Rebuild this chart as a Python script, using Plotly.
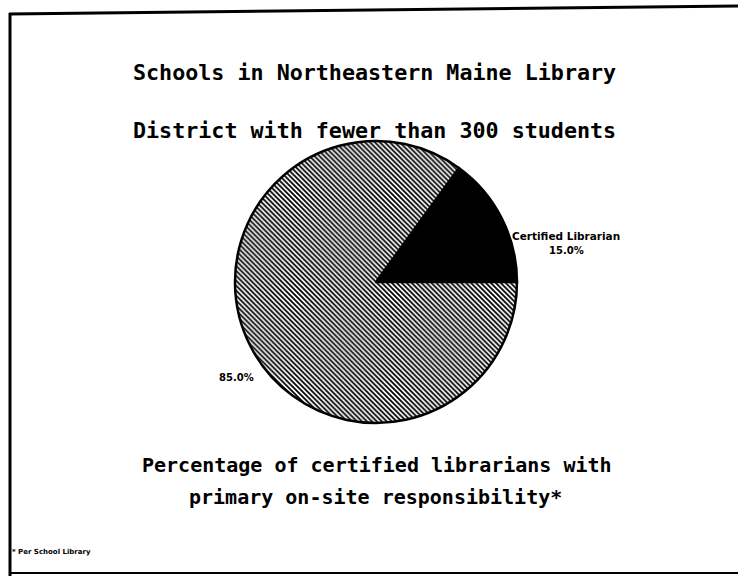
import plotly.graph_objects as go

labels = ["Certified Librarian", ""]
values = [15.0, 85.0]
title_lines = ["Schools in Northeastern Maine Library", "District with fewer than 300 students"]
caption_lines = ["Percentage of certified librarians with", "primary on-site responsibility*"]
footnote = "* Per School Library"

W, H = 738, 576


def px(x):
    return x / W


def py(y):
    return 1 - y / H


fig = go.Figure()
fig.add_trace(go.Pie(
    labels=["Certified Librarian", "Other"],
    values=values,
    sort=False,
    direction="clockwise",
    rotation=90 - values[0] * 3.6,
    textinfo="none",
    hoverinfo="label+percent",
    showlegend=False,
    marker=dict(
        colors=["black", "white"],
        line=dict(color="black", width=2.5),
        pattern=dict(shape=["", "\\"], fgcolor="black", bgcolor="white", size=3.5, solidity=0.5),
    ),
    domain=dict(x=[px(235), px(517)], y=[py(423), py(141)]),
))

mono = "DejaVu Sans Mono"
ann = []
ann.append(dict(x=px(374), y=py(72), text="<b>%s</b>" % title_lines[0], font=dict(family=mono, size=21.7, color="black")))
ann.append(dict(x=px(374), y=py(130), text="<b>%s</b>" % title_lines[1], font=dict(family=mono, size=21.7, color="black")))
ann.append(dict(x=px(377), y=py(465), text="<b>%s</b>" % caption_lines[0], font=dict(family=mono, size=20, color="black")))
ann.append(dict(x=px(375), y=py(497), text="<b>%s</b>" % caption_lines[1], font=dict(family=mono, size=20, color="black")))
ann.append(dict(x=px(566), y=py(236), text="<b>%s</b>" % labels[0], font=dict(family="DejaVu Sans", size=10.5, color="black")))
ann.append(dict(x=px(566), y=py(250), text="<b>%.1f%%</b>" % values[0], font=dict(family="DejaVu Sans", size=10, color="black")))
ann.append(dict(x=px(236), y=py(377), text="<b>%.1f%%</b>" % values[1], font=dict(family="DejaVu Sans", size=10, color="black")))
ann.append(dict(x=px(10), y=py(552), text="<b>%s</b>" % footnote, xanchor="left", font=dict(family="DejaVu Sans", size=7, color="black")))
for a in ann:
    a.setdefault("xanchor", "center")
    a.update(xref="paper", yref="paper", yanchor="middle", showarrow=False)

shapes = [
    dict(type="line", xref="paper", yref="paper", x0=px(9), x1=1, y0=py(14), y1=py(6), line=dict(color="black", width=3)),
    dict(type="line", xref="paper", yref="paper", x0=px(10), x1=px(10), y0=py(13), y1=0, line=dict(color="black", width=3)),
    dict(type="line", xref="paper", yref="paper", x0=px(10), x1=1, y0=py(573), y1=py(573), line=dict(color="black", width=2)),
]

fig.update_layout(
    width=W, height=H,
    margin=dict(l=0, r=0, t=0, b=0),
    paper_bgcolor="white", plot_bgcolor="white",
    annotations=ann, shapes=shapes,
)
fig.write_html(
    "out.html",
    config={"displayModeBar": False},
    post_script="document.body.style.margin='0';document.body.style.overflow='hidden';document.documentElement.style.overflow='hidden';",
)
